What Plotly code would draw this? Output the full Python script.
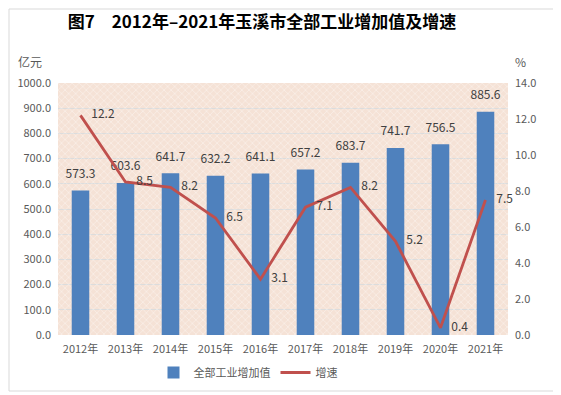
import plotly.graph_objects as go

years = ["2012年", "2013年", "2014年", "2015年", "2016年", "2017年", "2018年", "2019年", "2020年", "2021年"]
value_added = [573.3, 603.6, 641.7, 632.2, 641.1, 657.2, 683.7, 741.7, 756.5, 885.6]
growth = [12.2, 8.5, 8.2, 6.5, 3.1, 7.1, 8.2, 5.2, 0.4, 7.5]

left_ticks = [0, 100, 200, 300, 400, 500, 600, 700, 800, 900, 1000]
right_ticks = [0, 2, 4, 6, 8, 10, 12, 14]

FONT = "Noto Sans CJK SC"
BLUE = "#4f81bd"
RED = "#c0504d"
TXT = "#595959"

# page body adds an 8px offset; plot area sits at x 58..508, y 83..335 in the page
OFF = 8
PL, PR, PT, PB = 58, 508, 83, 335
PW, PH = PR - PL, PB - PT

fig = go.Figure()

# hatched plot-area background
fig.add_trace(go.Bar(
    x=years, y=[max(left_ticks)] * len(years), width=1,
    marker=dict(color="rgba(0,0,0,0)", line=dict(width=0),
                pattern=dict(shape="x", fgcolor="rgba(255,255,255,0.8)",
                             bgcolor="rgba(0,0,0,0)", size=5, solidity=0.3)),
    showlegend=False, hoverinfo="skip",
))

fig.add_trace(go.Bar(
    x=years, y=value_added, name="全部工业增加值",
    marker=dict(color=BLUE, line=dict(width=0)), width=0.39,
))
# bar value labels
fig.add_trace(go.Scatter(
    x=years, y=value_added, mode="markers+text", showlegend=False,
    marker=dict(size=14, opacity=0),
    text=[f"{v:.1f}" for v in value_added], textposition="top center",
    textfont=dict(family=FONT, size=12, color="#404040"),
    cliponaxis=False,
))

fig.add_trace(go.Scatter(
    x=years, y=growth, name="增速", yaxis="y2", mode="lines",
    line=dict(color=RED, width=2.8),
))
fig.add_trace(go.Scatter(
    x=years, y=growth, yaxis="y2", mode="text", showlegend=False,
    text=[f"    {v:.1f}" for v in growth], textposition="middle right",
    textfont=dict(family=FONT, size=12, color="#404040"),
    cliponaxis=False,
))

W, H = 561 - OFF, 395 - OFF


def px_x(x):
    return (x - PL) / PW


def px_y(y):
    return (PB - y) / PH


fig.update_layout(
    width=W, height=H,
    margin=dict(l=PL - OFF, r=561 - PR, t=PT - OFF, b=395 - PB, autoexpand=False),
    paper_bgcolor="white", plot_bgcolor="#f5e2d6",
    barmode="overlay",
    font=dict(family=FONT, size=11, color=TXT),
    title=dict(text="<b>图7　2012年–2021年玉溪市全部工业增加值及增速</b>",
               xref="paper", x=px_x(262), xanchor="center",
               yref="container", y=1 - (22 - OFF) / H, yanchor="middle",
               font=dict(family=FONT, size=17, color="black")),
    xaxis=dict(showgrid=False, tickfont=dict(size=11, color=TXT),
               showline=False, ticks="", range=[-0.5, 9.5], ticklabelstandoff=6),
    yaxis=dict(range=[0, 1000], tickvals=left_ticks,
               ticktext=[f"{v:.1f}" for v in left_ticks],
               showgrid=True, gridcolor="#dcdcdc", gridwidth=1, ticklabelstandoff=6,
               zeroline=False, ticks="", tickfont=dict(size=11, color=TXT)),
    yaxis2=dict(range=[0, 14], tickvals=right_ticks,
                ticktext=[f"{v:.1f}" for v in right_ticks],
                overlaying="y", side="right", showgrid=False, ticklabelstandoff=6,
                zeroline=False, ticks="", tickfont=dict(size=11, color=TXT)),
    legend=dict(orientation="h", x=px_x(248), xanchor="center",
                y=px_y(358), yanchor="top",
                font=dict(size=11, color=TXT), traceorder="normal"),
    hovermode=False,
    annotations=[
        dict(text="亿元", xref="paper", yref="paper", x=px_x(30), y=px_y(61),
             xanchor="center", yanchor="middle", showarrow=False,
             font=dict(size=12, color=TXT)),
        dict(text="%", xref="paper", yref="paper", x=px_x(520), y=px_y(61),
             xanchor="center", yanchor="middle", showarrow=False,
             font=dict(size=12, color=TXT)),
    ],
    shapes=[dict(type="rect", xref="paper", yref="paper",
                 x0=px_x(9), x1=px_x(558), y0=px_y(391), y1=px_y(9),
                 line=dict(color="#d9d9d9", width=1), fillcolor="rgba(0,0,0,0)")],
)

fig.write_html("out.html")
